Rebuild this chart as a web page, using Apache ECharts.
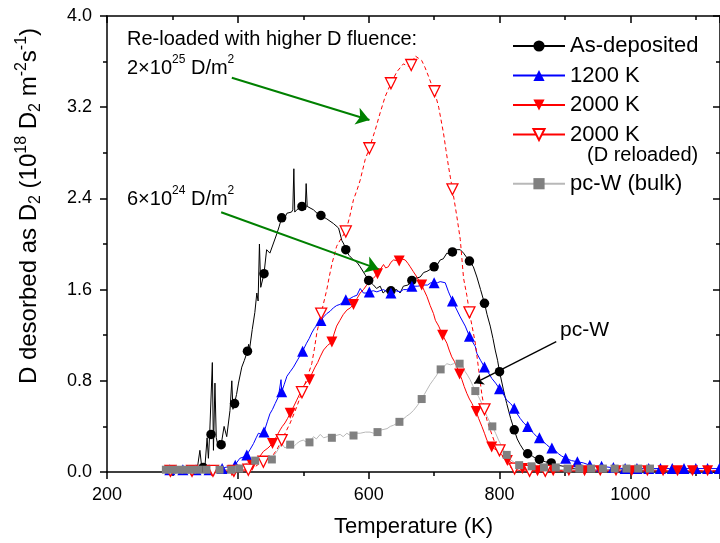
<!DOCTYPE html>
<html>
<head>
<meta charset="utf-8">
<title>TDS spectra</title>
<script src="https://cdn.jsdelivr.net/npm/echarts@6/dist/echarts.min.js"></script>
<style>
  html, body { margin: 0; padding: 0; background: #fff; }
  #chart { width: 720px; height: 543px; }
</style>
</head>
<body>
<div id="chart"></div>
<script>
// ---- data: [temperature K, desorption 1e18 D2/m2/s] ----
var asDepLine = [[290,0.01],[300,0.02],[310,0.01],[320,0.02],[330,0.02],[338,0.03],[342,0.19],[345,0.03],[350,0.07],[353,0.30],[355,0.12],[357,0.34],[359,0.33],[361,0.96],[362.7,0.19],[365,0.78],[367,0.30],[369,0.25],[372,0.28],[374.5,0.24],[379,0.40],[383,0.31],[388,0.54],[390.8,0.80],[392.5,0.55],[394.8,0.60],[398,0.68],[401,0.78],[406,0.92],[410,0.98],[414.7,1.06],[416.5,1.12],[418,1.08],[422,1.25],[426,1.40],[429,1.57],[431,1.50],[433,2.0],[435,1.62],[440,1.74],[444,1.95],[449,1.92],[454,2.0],[459.6,2.09],[463,2.15],[467,2.23],[471,2.22],[475,2.27],[482,2.28],[484,2.3],[485.6,2.66],[487,2.28],[490,2.30],[497.8,2.33],[501,2.36],[503,2.30],[504.4,2.53],[506,2.33],[508,2.33],[515.6,2.30],[521,2.27],[527,2.25],[536,2.22],[546,2.18],[554,2.14],[559,2.03],[562,2.00],[565,1.95],[570,1.90],[576.8,1.86],[582,1.84],[587,1.80],[594.6,1.73],[600,1.68],[607.4,1.64],[612,1.61],[617.6,1.63],[622,1.57],[627.8,1.60],[634,1.59],[643,1.60],[648,1.57],[653,1.63],[660,1.64],[666,1.68],[672,1.70],[678.7,1.71],[684,1.75],[689,1.76],[695,1.78],[700,1.80],[705,1.82],[709.3,1.86],[714,1.87],[719.5,1.92],[724,1.91],[728,1.93],[734,1.95],[740,1.95],[745,1.92],[750,1.88],[754,1.85],[760,1.80],[765.4,1.71],[771,1.60],[777,1.48],[781,1.38],[785.8,1.28],[790,1.17],[793.4,1.07],[797,0.98],[800,0.88],[806,0.72],[811,0.60],[817,0.47],[822.5,0.37],[827,0.29],[831.6,0.24],[837,0.19],[842.8,0.16],[850,0.14],[855,0.12],[861,0.11],[870,0.09],[879,0.08],[888,0.06],[898,0.05],[910,0.03],[930,0.02],[960,0.02],[1000,0.02],[1040,0.01]];
var asDepMarks = [[347,0.04],[359,0.33],[374.5,0.24],[395,0.60],[414.7,1.06],[440,1.74],[467,2.23],[498,2.33],[527,2.25],[565,1.95],[600,1.68],[634,1.59],[666,1.68],[700,1.80],[728,1.93],[754,1.85],[777,1.48],[800,0.88],[822.5,0.37],[843,0.16],[861,0.11],[879,0.08]];

var k1200Line = [[290,0.03],[300,0.02],[310,0.03],[320,0.02],[330,0.03],[340,0.02],[350,0.03],[360,0.02],[370,0.03],[380,0.04],[390,0.05],[398,0.08],[403,0.12],[408,0.13],[413.7,0.15],[419,0.20],[424,0.25],[428,0.30],[431.5,0.34],[436,0.33],[440,0.35],[445,0.44],[449,0.51],[453,0.55],[457,0.60],[462,0.66],[466,0.81],[467.2,0.705],[471,0.77],[475,0.84],[480,0.88],[485,0.92],[492,0.99],[499,1.06],[505,1.13],[509,1.17],[513,1.22],[517,1.26],[521,1.29],[527,1.33],[531,1.36],[536,1.39],[541,1.41],[546,1.44],[551,1.46],[556,1.47],[561,1.49],[565,1.51],[571,1.52],[577,1.54],[582,1.55],[587,1.61],[592,1.57],[596,1.57],[601,1.58],[607,1.59],[612.5,1.58],[617,1.59],[622.7,1.60],[628,1.58],[634,1.57],[641,1.59],[648,1.58],[653,1.60],[658.4,1.60],[666,1.63],[675,1.63],[683.8,1.64],[690,1.64],[695,1.66],[700,1.66],[705,1.66],[709.3,1.67],[717,1.66],[722,1.58],[728,1.50],[734,1.43],[740,1.36],[747.6,1.28],[754,1.19],[758,1.15],[763,1.10],[765.4,1.04],[771,0.98],[777,0.92],[783,0.87],[788.3,0.82],[794,0.78],[800,0.73],[805,0.69],[811,0.63],[817,0.60],[822.5,0.56],[827,0.51],[831.6,0.47],[837,0.43],[842.8,0.40],[847,0.37],[852,0.34],[857,0.31],[861,0.30],[866,0.27],[872,0.24],[876,0.22],[880,0.21],[885,0.19],[890,0.16],[895,0.14],[901,0.12],[910,0.10],[919,0.09],[928,0.08],[937.6,0.06],[947,0.05],[956,0.05],[970,0.04],[990,0.03],[1020,0.03],[1060,0.03],[1100,0.03],[1137,0.03]];
var k1200Marks = [[296,0.02],[316,0.02],[336,0.02],[356,0.02],[376,0.03],[396,0.06],[413.7,0.15],[440,0.35],[467,0.705],[499,1.06],[527,1.33],[565,1.51],[601,1.58],[634,1.57],[666,1.63],[700,1.66],[728,1.50],[754,1.19],[777,0.92],[800,0.73],[822.5,0.56],[843,0.40],[861,0.30],[880,0.21],[901,0.12],[919,0.09],[938,0.06],[956,0.05],[974,0.04],[992,0.03],[1010,0.03],[1028,0.03],[1046,0.03],[1064,0.03],[1082,0.03],[1100,0.03],[1118,0.03],[1136,0.03]];

var k2000Line = [[290,0.01],[310,0.01],[330,0.01],[350,0.01],[370,0.01],[390,0.01],[403,0.01],[410,0.02],[416,0.03],[422,0.06],[429,0.10],[434,0.14],[439,0.18],[446,0.21],[453,0.25],[459,0.31],[464.7,0.37],[468,0.40],[472,0.43],[476,0.47],[480,0.515],[485,0.57],[490,0.63],[495,0.69],[500,0.75],[505,0.79],[509.5,0.81],[513,0.86],[518,0.92],[522,0.96],[525.8,1.01],[531,1.07],[537,1.11],[543.7,1.14],[547,1.21],[551,1.28],[556,1.33],[561,1.38],[566.6,1.42],[572,1.44],[576.8,1.47],[582,1.52],[587,1.57],[592,1.60],[597,1.64],[602,1.67],[607.4,1.70],[613.5,1.74],[618,1.78],[622.7,1.82],[626,1.79],[630,1.80],[634,1.84],[638,1.86],[646.6,1.85],[650,1.87],[655.8,1.86],[660,1.83],[663.5,1.80],[668,1.76],[673.7,1.71],[681,1.64],[685,1.59],[689,1.54],[694,1.46],[699,1.39],[702,1.33],[707,1.28],[713,1.20],[719.5,1.13],[723,1.07],[727,1.01],[731,0.97],[735,0.92],[739,0.86],[742.5,0.81],[746,0.75],[750,0.69],[754,0.64],[758,0.60],[761,0.56],[764.4,0.53],[768,0.47],[773,0.40],[777,0.34],[780.7,0.28],[784,0.25],[788,0.22],[793,0.20],[798.5,0.18],[803,0.15],[808.7,0.12],[814,0.10],[819,0.08],[826.5,0.05],[834,0.03],[842,0.02],[860,0.01],[900,0.01],[950,0.01],[1000,0.01],[1050,0.01],[1100,0.01],[1137,0.01]];
var k2000Marks = [[298,0.01],[329,0.01],[360,0.01],[391,0.01],[422,0.06],[453,0.25],[480,0.515],[509.5,0.81],[543.7,1.14],[576.8,1.47],[613.5,1.74],[646.6,1.85],[681,1.64],[713,1.20],[739,0.86],[764.4,0.53],[788,0.22],[812,0.10],[835,0.03],[858,0.01],[882,0.01],[906,0.01],[930,0.01],[954,0.01],[978,0.01],[1002,0.01],[1026,0.01],[1050,0.01],[1072,0.01],[1095,0.01],[1118,0.01]];

var reloadLine = [[290,0.0],[330,0.0],[370,0.0],[400,0.0],[410,0.01],[416,0.02],[425,0.04],[432,0.07],[439,0.09],[447,0.12],[454,0.15],[460,0.20],[467,0.28],[474,0.36],[480,0.43],[485,0.50],[490,0.57],[497.8,0.70],[505,0.81],[513,0.95],[517,1.08],[520.7,1.22],[527.4,1.39],[531,1.48],[536,1.60],[540,1.72],[544,1.83],[551,1.98],[558,2.05],[565,2.11],[571,2.24],[576.8,2.39],[582,2.47],[587,2.56],[594.6,2.74],[601,2.84],[606,2.93],[610,3.00],[617.5,3.15],[625,3.29],[634,3.41],[643,3.51],[653,3.58],[660,3.56],[665,3.57],[671,3.65],[676,3.63],[681,3.61],[686,3.55],[691.5,3.47],[696,3.40],[700.6,3.34],[707,3.20],[714.4,2.97],[718,2.83],[722,2.68],[725,2.58],[728,2.48],[734.8,2.24],[740,2.04],[745,1.70],[750,1.55],[754,1.40],[758,1.28],[763,1.13],[769.4,0.84],[773,0.68],[777,0.55],[781,0.45],[785.8,0.37],[792,0.27],[800,0.19],[805,0.13],[811,0.08],[817,0.04],[824,0.02],[835,0.01],[860,0.01],[900,0.01],[950,0.01],[1000,0.01],[1050,0.01],[1100,0.01],[1137,0.01]];
var reloadMarks = [[297,0.01],[330,0.01],[362,0.01],[394,0.01],[416,0.02],[439,0.09],[467,0.28],[498,0.70],[527.4,1.39],[565,2.11],[601,2.84],[634,3.41],[665,3.57],[700.6,3.34],[728,2.48],[754,1.40],[777,0.55],[800,0.19],[823,0.03],[846,0.01],[870,0.01]];

var pcwLine = [[285,0.02],[300,0.02],[320,0.02],[340,0.02],[360,0.02],[380,0.02],[395,0.03],[403,0.05],[411,0.07],[419,0.09],[426.5,0.10],[434,0.13],[439,0.11],[444,0.12],[452,0.11],[456,0.15],[459.6,0.18],[464,0.22],[467,0.25],[472,0.21],[476,0.23],[480,0.24],[485,0.22],[490,0.25],[495,0.27],[500,0.28],[505,0.26],[509.5,0.26],[515.6,0.31],[520,0.29],[526,0.33],[531,0.30],[537,0.31],[543.7,0.30],[550,0.32],[556.4,0.33],[561,0.31],[566.6,0.34],[572,0.32],[576.8,0.32],[582,0.34],[587,0.34],[595,0.35],[602,0.35],[608,0.34],[613.5,0.35],[620,0.37],[628,0.38],[633,0.40],[638,0.41],[647,0.44],[652,0.46],[658,0.49],[663,0.51],[668.5,0.54],[674,0.58],[681,0.64],[685,0.68],[689,0.72],[694,0.77],[699,0.81],[704,0.85],[708,0.90],[714,0.92],[719.5,0.95],[725,0.94],[730,0.95],[735,0.96],[739,0.95],[743,0.94],[747.5,0.88],[751,0.85],[755,0.81],[759,0.76],[763,0.71],[768,0.66],[773,0.60],[777,0.54],[780.7,0.49],[785,0.44],[789,0.40],[794,0.34],[798.5,0.28],[804,0.22],[808,0.17],[811,0.15],[816,0.11],[821,0.09],[826,0.07],[830,0.06],[836,0.05],[842,0.04],[850,0.03],[870,0.03],[900,0.02],[950,0.02],[1000,0.02],[1040,0.02]];
var pcwMarks = [[290,0.02],[300,0.02],[310,0.02],[320,0.02],[330,0.02],[340,0.02],[352,0.02],[372,0.02],[390,0.02],[402,0.03],[426.5,0.10],[452,0.11],[480,0.24],[509.5,0.26],[543.7,0.30],[576.8,0.32],[613.5,0.35],[647,0.44],[681,0.64],[710,0.90],[739,0.95],[763,0.71],[789,0.40],[811,0.15],[830,0.06],[849,0.05],[868,0.04],[886,0.04],[904,0.03],[922,0.03],[940,0.03],[958,0.03],[976,0.03],[994,0.03],[1012,0.03],[1030,0.03]];

// annotation arrows [from, to] in data units
var arrowHigh = [[390.8,3.459],[601.2,3.088]];
var arrowLow = [[374.5,2.278],[615,1.78]];
var arrowPcw = [[886.7,1.143],[761.3,0.778]];

var FONT = '"Liberation Sans", Arial, sans-serif';

var myChart = echarts.init(document.getElementById('chart'));

function axisX(pos) {
    return {
        type: 'value', position: pos, min: 200, max: 1137, interval: 200,
        axisLine: { show: true, onZero: false, lineStyle: { color: '#000', width: 1.5 } },
        axisTick: { show: true, inside: pos === 'top', length: 7, lineStyle: { color: '#000', width: 1.5 } },
        minorTick: { show: true, splitNumber: 2, length: 4, lineStyle: { color: '#000', width: 1.5 } },
        splitLine: { show: false },
        axisLabel: { show: pos === 'bottom', showMaxLabel: false, fontSize: 18, color: '#000', fontFamily: FONT, margin: 14,
            formatter: function (v) { return String(v); } }
    };
}
function axisY(pos) {
    return {
        type: 'value', position: pos, min: 0, max: 4, interval: 0.8,
        axisLine: { show: true, onZero: false, lineStyle: { color: '#000', width: 1.5 } },
        axisTick: { show: true, inside: pos === 'right', length: 7, lineStyle: { color: '#000', width: 1.5 } },
        minorTick: { show: true, splitNumber: 2, length: 4, lineStyle: { color: '#000', width: 1.5 } },
        splitLine: { show: false },
        axisLabel: { show: pos === 'left', fontSize: 18, color: '#000', fontFamily: FONT, margin: 15,
            formatter: function (v) { return v.toFixed(1); } }
    };
}

var xBottom = axisX('bottom');
xBottom.name = 'Temperature (K)';
xBottom.nameLocation = 'middle';
xBottom.nameGap = 44;
xBottom.nameTextStyle = { fontSize: 22, color: '#000', fontFamily: FONT };

var yLeft = axisY('left');
yLeft.name = 'D desorbed as D{sub|2} (10{sup|18} D{sub|2} m{sup|-2}s{sup|-1})';
yLeft.nameLocation = 'middle';
yLeft.nameGap = 63;
yLeft.nameTextStyle = {
    fontSize: 24, color: '#000', fontFamily: FONT, lineHeight: 30, padding: [0, 0, 0, 76],
    rich: {
        sub: { fontSize: 16, fontFamily: FONT, color: '#000', verticalAlign: 'bottom', lineHeight: 16 },
        sup: { fontSize: 16, fontFamily: FONT, color: '#000', verticalAlign: 'top', lineHeight: 16 }
    }
};

function markSeries(data, symbol, size, rotate, fill, stroke) {
    return {
        type: 'scatter', data: data, symbol: symbol, symbolSize: size, symbolRotate: rotate,
        itemStyle: { color: fill, borderColor: stroke, borderWidth: stroke ? 1.3 : 0, opacity: 1 },
        silent: true, z: 3
    };
}

var option = {
    animation: false,
    textStyle: { fontFamily: FONT },
    grid: { left: 107, right: 0, top: 16, bottom: 71 },
    xAxis: [xBottom, axisX('top')],
    yAxis: [yLeft, axisY('right')],
    legend: [{
        data: ['As-deposited', '1200 K', '2000 K', '2000 K (D reloaded)'],
        orient: 'vertical', left: 512, top: 35, padding: 0,
        itemWidth: 52, itemHeight: 14, itemGap: 7.5, selectedMode: false,
        lineStyle: { type: 'solid' },
        textStyle: { fontSize: 22, lineHeight: 20, color: '#000', fontFamily: FONT },
        formatter: function (name) { return name === '2000 K (D reloaded)' ? '2000 K' : name; }
    }, {
        data: ['pc-W (bulk)'],
        orient: 'vertical', left: 512, top: 172.7, padding: 0,
        itemWidth: 52, itemHeight: 14, selectedMode: false,
        textStyle: { fontSize: 22, lineHeight: 20, color: '#000', fontFamily: FONT }
    }],
    graphic: [
        { type: 'text', x: 127, y: 39, style: { text: 'Re-loaded with higher D fluence:', fontSize: 20, fontFamily: FONT, fill: '#000', verticalAlign: 'middle' } },
        { type: 'text', x: 127, y: 68, style: { text: '2×10{sup|25} D/m{sup|2}', fontSize: 20, fontFamily: FONT, fill: '#000', verticalAlign: 'middle', lineHeight: 28,
            rich: { sup: { fontSize: 12, fontFamily: FONT, fill: '#000', verticalAlign: 'top', lineHeight: 12 } } } },
        { type: 'text', x: 127, y: 199, style: { text: '6×10{sup|24} D/m{sup|2}', fontSize: 20, fontFamily: FONT, fill: '#000', verticalAlign: 'middle', lineHeight: 28,
            rich: { sup: { fontSize: 12, fontFamily: FONT, fill: '#000', verticalAlign: 'top', lineHeight: 12 } } } },
        { type: 'text', x: 587, y: 155, style: { text: '(D reloaded)', fontSize: 20, fontFamily: FONT, fill: '#000', verticalAlign: 'middle' } },
        { type: 'text', x: 560, y: 330, style: { text: 'pc-W', fontSize: 21, fontFamily: FONT, fill: '#000', verticalAlign: 'middle' } }
    ],
    series: [
        {
            name: 'As-deposited', type: 'line', data: asDepLine, showSymbol: false,
            symbol: 'circle', symbolSize: 10, itemStyle: { color: '#000' },
            lineStyle: { color: '#000', width: 1 }, silent: true, z: 2
        },
        markSeries(asDepMarks, 'circle', 9.5, 0, '#000'),
        {
            name: '1200 K', type: 'line', data: k1200Line, showSymbol: false,
            symbol: 'triangle', itemStyle: { color: '#0000ff' },
            lineStyle: { color: '#0000ff', width: 1 }, silent: true, z: 2
        },
        markSeries(k1200Marks, 'triangle', 11, 0, '#0000ff'),
        {
            name: '2000 K', type: 'line', data: k2000Line, showSymbol: false,
            symbol: 'triangle', symbolRotate: 180, itemStyle: { color: '#ff0000' },
            lineStyle: { color: '#ff0000', width: 1 }, silent: true, z: 2
        },
        markSeries(k2000Marks, 'triangle', 11, 180, '#ff0000'),
        {
            name: '2000 K (D reloaded)', type: 'line', data: reloadLine, showSymbol: false,
            symbol: 'triangle', symbolRotate: 180,
            itemStyle: { color: '#ffffff', borderColor: '#ff0000', borderWidth: 1.3 },
            lineStyle: { color: '#ff0000', width: 1, type: [4, 3] }, silent: true, z: 2
        },
        markSeries(reloadMarks, 'triangle', 11, 180, '#ffffff', '#ff0000'),
        {
            name: 'pc-W (bulk)', type: 'line', data: pcwLine, showSymbol: false,
            symbol: 'rect', itemStyle: { color: '#808080' },
            lineStyle: { color: '#b8b8b8', width: 1 }, silent: true, z: 2
        },
        markSeries(pcwMarks, 'rect', 8, 0, '#808080'),
        {
            // annotation arrows
            type: 'line', data: [], silent: true, z: 5,
            markLine: {
                silent: true, animation: false, symbol: ['none', 'arrow'], symbolSize: 13,
                label: { show: false }, emphasis: { disabled: true },
                data: [
                    [{ coord: arrowHigh[0], lineStyle: { color: '#008000', width: 2, type: 'solid' } }, { coord: arrowHigh[1] }],
                    [{ coord: arrowLow[0], lineStyle: { color: '#008000', width: 2, type: 'solid' } }, { coord: arrowLow[1] }],
                    [{ coord: arrowPcw[0], symbolSize: 9, lineStyle: { color: '#000', width: 1.3, type: 'solid' } }, { coord: arrowPcw[1], symbolSize: 9 }]
                ]
            }
        }
    ]
};
myChart.setOption(option);
</script>
</body>
</html>
